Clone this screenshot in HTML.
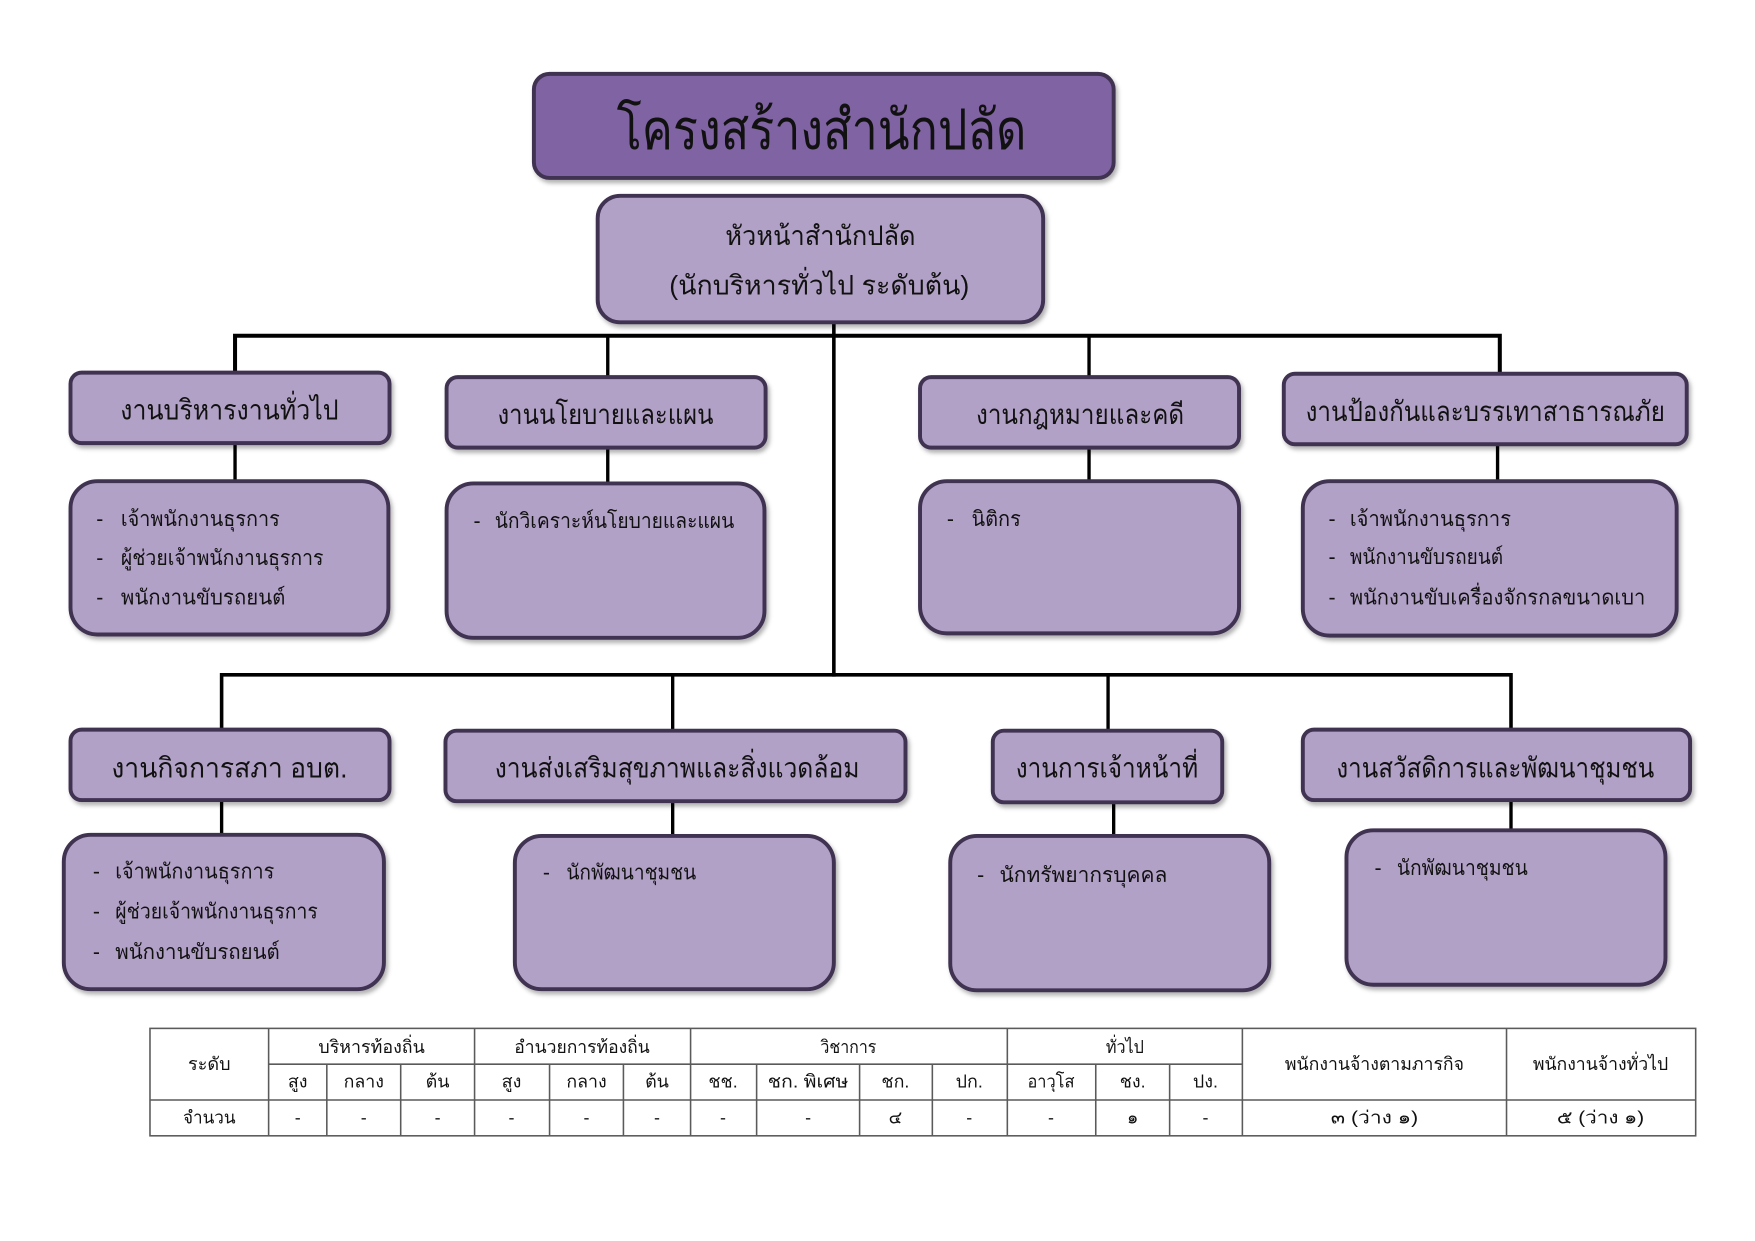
<!DOCTYPE html>
<html lang="th">
<head>
<meta charset="utf-8">
<title>โครงสร้างสำนักปลัด</title>
<style>
  html,body{margin:0;padding:0;background:#fff;}
  body{width:1755px;height:1241px;overflow:hidden;}
  svg{display:block;}
  text{font-family:"Liberation Sans","DejaVu Sans",sans-serif;fill:#111;}
  .hd{font-size:25px;}
  .it{font-size:19px;}
  .tb{font-size:16px;}
</style>
</head>
<body>
<svg width="1755" height="1241" viewBox="0 0 1568 1109" preserveAspectRatio="none" xmlns="http://www.w3.org/2000/svg">
  <defs>
    <filter id="sh" x="-10%" y="-10%" width="125%" height="135%">
      <feDropShadow dx="2" dy="3" stdDeviation="2" flood-color="#000" flood-opacity="0.3"/>
    </filter>
  </defs>

  <!-- connectors -->
  <g stroke="#000" fill="none" stroke-linecap="square">
    <line x1="745" y1="288" x2="745" y2="603" stroke-width="3.2"/>
    <polyline points="210,333 210,300 1340,300 1340,334" stroke-width="3.6"/>
    <line x1="543" y1="300" x2="543" y2="337" stroke-width="3"/>
    <line x1="973" y1="300" x2="973" y2="337" stroke-width="3"/>
    <line x1="210" y1="396" x2="210" y2="430" stroke-width="3"/>
    <line x1="543" y1="400" x2="543" y2="432" stroke-width="3"/>
    <line x1="973" y1="400" x2="973" y2="430" stroke-width="3"/>
    <line x1="1338" y1="397" x2="1338" y2="430" stroke-width="3"/>
    <polyline points="198,652 198,603 1350,603 1350,652" stroke-width="3.2"/>
    <line x1="601" y1="603" x2="601" y2="653" stroke-width="3"/>
    <line x1="990" y1="603" x2="990" y2="653" stroke-width="3"/>
    <line x1="198" y1="715" x2="198" y2="746" stroke-width="3"/>
    <line x1="601" y1="716" x2="601" y2="747" stroke-width="3"/>
    <line x1="995" y1="717" x2="995" y2="747" stroke-width="3"/>
    <line x1="1350" y1="715" x2="1350" y2="742" stroke-width="3"/>
  </g>

  <!-- boxes -->
  <g stroke="#3F3151" stroke-width="3.5" filter="url(#sh)">
    <rect x="477" y="66" width="518" height="93" rx="14" fill="#8064A2"/>
    <rect x="534" y="175" width="398" height="113" rx="20" fill="#B2A1C7"/>

    <rect x="63" y="333" width="285" height="63" rx="10" fill="#B2A1C7"/>
    <rect x="399" y="337" width="285" height="63" rx="10" fill="#B2A1C7"/>
    <rect x="822" y="337" width="285" height="63" rx="10" fill="#B2A1C7"/>
    <rect x="1147" y="334" width="360" height="63" rx="10" fill="#B2A1C7"/>

    <rect x="63" y="430" width="284" height="137" rx="24" fill="#B2A1C7"/>
    <rect x="399" y="432" width="284" height="138" rx="24" fill="#B2A1C7"/>
    <rect x="822" y="430" width="285" height="136" rx="24" fill="#B2A1C7"/>
    <rect x="1164" y="430" width="334" height="138" rx="24" fill="#B2A1C7"/>

    <rect x="63" y="652" width="285" height="63" rx="10" fill="#B2A1C7"/>
    <rect x="398" y="653" width="411" height="63" rx="10" fill="#B2A1C7"/>
    <rect x="887" y="653" width="205" height="64" rx="10" fill="#B2A1C7"/>
    <rect x="1164" y="652" width="346" height="63" rx="10" fill="#B2A1C7"/>

    <rect x="57" y="746" width="286" height="138" rx="24" fill="#B2A1C7"/>
    <rect x="460" y="747" width="285" height="137" rx="24" fill="#B2A1C7"/>
    <rect x="849" y="747" width="285" height="138" rx="24" fill="#B2A1C7"/>
    <rect x="1203" y="742" width="285" height="138" rx="24" fill="#B2A1C7"/>
  </g>

  <!-- title texts -->
  <text x="734" y="133" text-anchor="middle" font-size="50" textLength="366" lengthAdjust="spacingAndGlyphs">โครงสร้างสำนักปลัด</text>
  <text x="733" y="219" text-anchor="middle" font-size="24" textLength="170" lengthAdjust="spacingAndGlyphs">หัวหน้าสำนักปลัด</text>
  <text x="732" y="263" text-anchor="middle" font-size="24" textLength="268" lengthAdjust="spacingAndGlyphs">(นักบริหารทั่วไป  ระดับต้น)</text>

  <!-- header labels row 1 -->
  <text class="hd" x="205" y="375" text-anchor="middle" textLength="195" lengthAdjust="spacingAndGlyphs">งานบริหารงานทั่วไป</text>
  <text class="hd" x="541" y="379" text-anchor="middle" textLength="193" lengthAdjust="spacingAndGlyphs">งานนโยบายและแผน</text>
  <text class="hd" x="965" y="379" text-anchor="middle" textLength="186" lengthAdjust="spacingAndGlyphs">งานกฎหมายและคดี</text>
  <text class="hd" x="1327" y="376" text-anchor="middle" textLength="321" lengthAdjust="spacingAndGlyphs">งานป้องกันและบรรเทาสาธารณภัย</text>

  <!-- header labels row 2 -->
  <text class="hd" x="205" y="695" text-anchor="middle" textLength="211" lengthAdjust="spacingAndGlyphs">งานกิจการสภา  อบต.</text>
  <text class="hd" x="605" y="695" text-anchor="middle" textLength="326" lengthAdjust="spacingAndGlyphs">งานส่งเสริมสุขภาพและสิ่งแวดล้อม</text>
  <text class="hd" x="989" y="695" text-anchor="middle" textLength="163" lengthAdjust="spacingAndGlyphs">งานการเจ้าหน้าที่</text>
  <text class="hd" x="1336" y="695" text-anchor="middle" textLength="284" lengthAdjust="spacingAndGlyphs">งานสวัสดิการและพัฒนาชุมชน</text>

  <!-- detail items row 1 -->
  <g class="it">
    <text class="it" x="86" y="470">-</text>
    <text class="it" x="108" y="470" textLength="142" lengthAdjust="spacingAndGlyphs">เจ้าพนักงานธุรการ</text>
    <text class="it" x="86" y="505">-</text>
    <text class="it" x="108" y="505" textLength="181" lengthAdjust="spacingAndGlyphs">ผู้ช่วยเจ้าพนักงานธุรการ</text>
    <text class="it" x="86" y="540">-</text>
    <text class="it" x="108" y="540" textLength="147" lengthAdjust="spacingAndGlyphs">พนักงานขับรถยนต์</text>

    <text class="it" x="423" y="472">-</text>
    <text class="it" x="442" y="472" textLength="214" lengthAdjust="spacingAndGlyphs">นักวิเคราะห์นโยบายและแผน</text>

    <text class="it" x="846" y="470">-</text>
    <text class="it" x="868" y="470" textLength="44" lengthAdjust="spacingAndGlyphs">นิติกร</text>

    <text class="it" x="1187" y="470">-</text>
    <text class="it" x="1206" y="470" textLength="144" lengthAdjust="spacingAndGlyphs">เจ้าพนักงานธุรการ</text>
    <text class="it" x="1187" y="504">-</text>
    <text class="it" x="1206" y="504" textLength="137" lengthAdjust="spacingAndGlyphs">พนักงานขับรถยนต์</text>
    <text class="it" x="1187" y="540">-</text>
    <text class="it" x="1206" y="540" textLength="264" lengthAdjust="spacingAndGlyphs">พนักงานขับเครื่องจักรกลขนาดเบา</text>
  </g>

  <!-- detail items row 2 -->
  <text class="it" x="83" y="785">-</text>
  <text class="it" x="103" y="785" textLength="142" lengthAdjust="spacingAndGlyphs">เจ้าพนักงานธุรการ</text>
  <text class="it" x="83" y="821">-</text>
  <text class="it" x="103" y="821" textLength="181" lengthAdjust="spacingAndGlyphs">ผู้ช่วยเจ้าพนักงานธุรการ</text>
  <text class="it" x="83" y="857">-</text>
  <text class="it" x="103" y="857" textLength="147" lengthAdjust="spacingAndGlyphs">พนักงานขับรถยนต์</text>

  <text class="it" x="485" y="786">-</text>
  <text class="it" x="506" y="786" textLength="116" lengthAdjust="spacingAndGlyphs">นักพัฒนาชุมชน</text>

  <text class="it" x="873" y="788">-</text>
  <text class="it" x="893" y="788" textLength="150" lengthAdjust="spacingAndGlyphs">นักทรัพยากรบุคคล</text>

  <text class="it" x="1228" y="782">-</text>
  <text class="it" x="1248" y="782" textLength="117" lengthAdjust="spacingAndGlyphs">นักพัฒนาชุมชน</text>

  <!-- table -->
  <g stroke="#5a5a5a" stroke-width="1.4" fill="none">
    <rect x="134" y="919" width="1381" height="96"/>
    <line x1="240" y1="951" x2="1110" y2="951"/>
    <line x1="134" y1="983" x2="1515" y2="983"/>
    <line x1="240" y1="919" x2="240" y2="1015"/>
    <line x1="424" y1="919" x2="424" y2="1015"/>
    <line x1="617" y1="919" x2="617" y2="1015"/>
    <line x1="900" y1="919" x2="900" y2="1015"/>
    <line x1="1110" y1="919" x2="1110" y2="1015"/>
    <line x1="1346" y1="919" x2="1346" y2="1015"/>
    <line x1="292" y1="951" x2="292" y2="1015"/>
    <line x1="358" y1="951" x2="358" y2="1015"/>
    <line x1="491" y1="951" x2="491" y2="1015"/>
    <line x1="557" y1="951" x2="557" y2="1015"/>
    <line x1="676" y1="951" x2="676" y2="1015"/>
    <line x1="768" y1="951" x2="768" y2="1015"/>
    <line x1="833" y1="951" x2="833" y2="1015"/>
    <line x1="979" y1="951" x2="979" y2="1015"/>
    <line x1="1045" y1="951" x2="1045" y2="1015"/>
  </g>

  <g class="tb" text-anchor="middle">
    <text class="tb" x="187" y="956" textLength="38" lengthAdjust="spacingAndGlyphs">ระดับ</text>
    <text class="tb" x="332" y="941" textLength="95" lengthAdjust="spacingAndGlyphs">บริหารท้องถิ่น</text>
    <text class="tb" x="520" y="941" textLength="121" lengthAdjust="spacingAndGlyphs">อำนวยการท้องถิ่น</text>
    <text class="tb" x="758" y="941" textLength="50" lengthAdjust="spacingAndGlyphs">วิชาการ</text>
    <text class="tb" x="1005" y="941" textLength="34" lengthAdjust="spacingAndGlyphs">ทั่วไป</text>
    <text class="tb" x="1228" y="956" textLength="160" lengthAdjust="spacingAndGlyphs">พนักงานจ้างตามภารกิจ</text>
    <text class="tb" x="1430" y="956" textLength="121" lengthAdjust="spacingAndGlyphs">พนักงานจ้างทั่วไป</text>

    <text class="tb" x="266" y="972">สูง</text>
    <text class="tb" x="325" y="972" textLength="36" lengthAdjust="spacingAndGlyphs">กลาง</text>
    <text class="tb" x="391" y="972">ต้น</text>
    <text class="tb" x="457" y="972">สูง</text>
    <text class="tb" x="524" y="972" textLength="36" lengthAdjust="spacingAndGlyphs">กลาง</text>
    <text class="tb" x="587" y="972">ต้น</text>
    <text class="tb" x="646" y="972">ชช.</text>
    <text class="tb" x="722" y="972" textLength="72" lengthAdjust="spacingAndGlyphs">ชก.  พิเศษ</text>
    <text class="tb" x="800" y="972">ชก.</text>
    <text class="tb" x="866" y="972">ปก.</text>
    <text class="tb" x="939" y="972" textLength="42" lengthAdjust="spacingAndGlyphs">อาวุโส</text>
    <text class="tb" x="1012" y="972">ชง.</text>
    <text class="tb" x="1077" y="972">ปง.</text>

    <text class="tb" x="187" y="1004" textLength="47" lengthAdjust="spacingAndGlyphs">จำนวน</text>
    <text class="tb" x="266" y="1004">-</text>
    <text class="tb" x="325" y="1004">-</text>
    <text class="tb" x="391" y="1004">-</text>
    <text class="tb" x="457" y="1004">-</text>
    <text class="tb" x="524" y="1004">-</text>
    <text class="tb" x="587" y="1004">-</text>
    <text class="tb" x="646" y="1004">-</text>
    <text class="tb" x="722" y="1004">-</text>
    <text class="tb" x="800" y="1004">๔</text>
    <text class="tb" x="866" y="1004">-</text>
    <text class="tb" x="939" y="1004">-</text>
    <text class="tb" x="1012" y="1004">๑</text>
    <text class="tb" x="1077" y="1004">-</text>
    <text class="tb" x="1228" y="1004" textLength="78" lengthAdjust="spacingAndGlyphs">๓ (ว่าง ๑)</text>
    <text class="tb" x="1430" y="1004" textLength="78" lengthAdjust="spacingAndGlyphs">๕ (ว่าง ๑)</text>
  </g>
</svg>
</body>
</html>
